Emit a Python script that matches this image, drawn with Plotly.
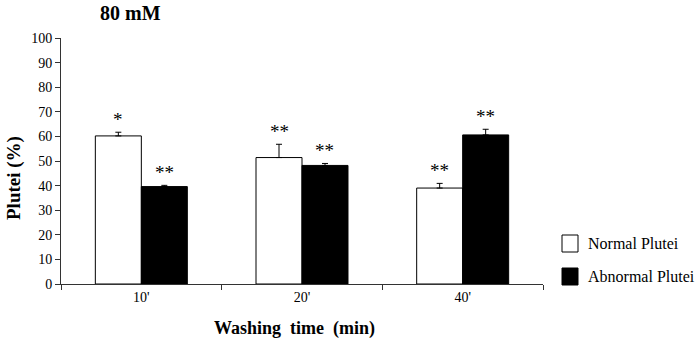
import plotly.graph_objects as go

# ---- data ----
categories = ["10'", "20'", "40'"]
series_names = ["Normal Plutei", "Abnormal Plutei"]
normal_vals = [60.2, 51.4, 39.0]
normal_err = [1.5, 5.4, 1.9]
abnormal_vals = [39.6, 48.2, 60.6]
abnormal_err = [0.5, 0.8, 2.3]
normal_sig = ["*", "**", "**"]
abnormal_sig = ["**", "**", "**"]
y_ticks = list(range(0, 101, 10))

W, H = 700, 342
L, R, T, B = 61, 157, 38, 58
PW, PH = W - L - R, H - T - B

def px(x):
    return (x - L) / PW

def py(y):
    return (H - B - y) / PH

FONT = "'Liberation Serif', 'Times New Roman', Times, serif"

fig = go.Figure()
for name, vals, errs, fill in [
    (series_names[0], normal_vals, normal_err, "white"),
    (series_names[1], abnormal_vals, abnormal_err, "black"),
]:
    fig.add_trace(go.Bar(
        x=categories, y=vals, name=name,
        marker=dict(color=fill, line=dict(color="black", width=1)),
        error_y=dict(type="data", array=errs, arrayminus=[0] * len(errs),
                     symmetric=False, width=3, thickness=1, color="black"),
        showlegend=False,
    ))

annotations = []
# significance stars
for i, c in enumerate(categories):
    for vals, errs, sig, off in [(normal_vals, normal_err, normal_sig, -0.1427),
                                 (abnormal_vals, abnormal_err, abnormal_sig, 0.1427)]:
        annotations.append(dict(
            x=i + off, y=vals[i] + errs[i], xref="x", yref="y",
            text=sig[i], showarrow=False, xanchor="center", yanchor="bottom", yshift=0,
            font=dict(family=FONT, size=19, color="black"),
        ))

annotations += [
    dict(x=px(130), y=py(13), xref="paper", yref="paper", text="<b>80 mM</b>",
         xanchor="center", yanchor="middle",
         showarrow=False, font=dict(family=FONT, size=20, color="black")),
    dict(x=px(294), y=py(328), xref="paper", yref="paper",
         text="<b>Washing  time  (min)</b>", showarrow=False,
         xanchor="center", yanchor="middle",
         font=dict(family=FONT, size=18, color="black")),
    dict(x=px(14), y=py(178), xref="paper", yref="paper", text="<b>Plutei (%)</b>",
         xanchor="center", yanchor="middle",
         textangle=-90, showarrow=False, font=dict(family=FONT, size=19, color="black")),
]

shapes = []
legend_rows = [(series_names[0], "white", 243.5), (series_names[1], "black", 276.5)]
for name, fill, cy in legend_rows:
    shapes.append(dict(type="rect", xref="paper", yref="paper",
                       x0=px(562), x1=px(578), y0=py(cy - 8.5), y1=py(cy + 8.5),
                       fillcolor=fill, line=dict(color="black", width=1)))
    annotations.append(dict(x=px(586), y=py(cy), xref="paper", yref="paper",
                            text=name, showarrow=False, xanchor="left", yanchor="middle",
                            font=dict(family=FONT, size=16, color="black")))

fig.update_layout(
    width=W, height=H,
    margin=dict(l=L, r=R, t=T, b=B),
    paper_bgcolor="white", plot_bgcolor="white",
    font=dict(family=FONT, color="black"),
    barmode="group", bargap=0.4275, bargroupgap=0,
    annotations=annotations, shapes=shapes,
    xaxis=dict(type="category", range=[-0.5, 2.5], showline=True, linecolor="#333",
               linewidth=1, ticks="outside", tickson="boundaries", ticklen=5,
               tickcolor="#333", showgrid=False, zeroline=False,
               tickfont=dict(family=FONT, size=14, color="black")),
    yaxis=dict(range=[0, 100], tickvals=y_ticks, showline=True, linecolor="#333",
               linewidth=1, ticks="outside", ticklen=5, tickcolor="#333",
               showgrid=False, zeroline=False,
               tickfont=dict(family=FONT, size=14, color="black")),
)

fig.write_html("out.html")
